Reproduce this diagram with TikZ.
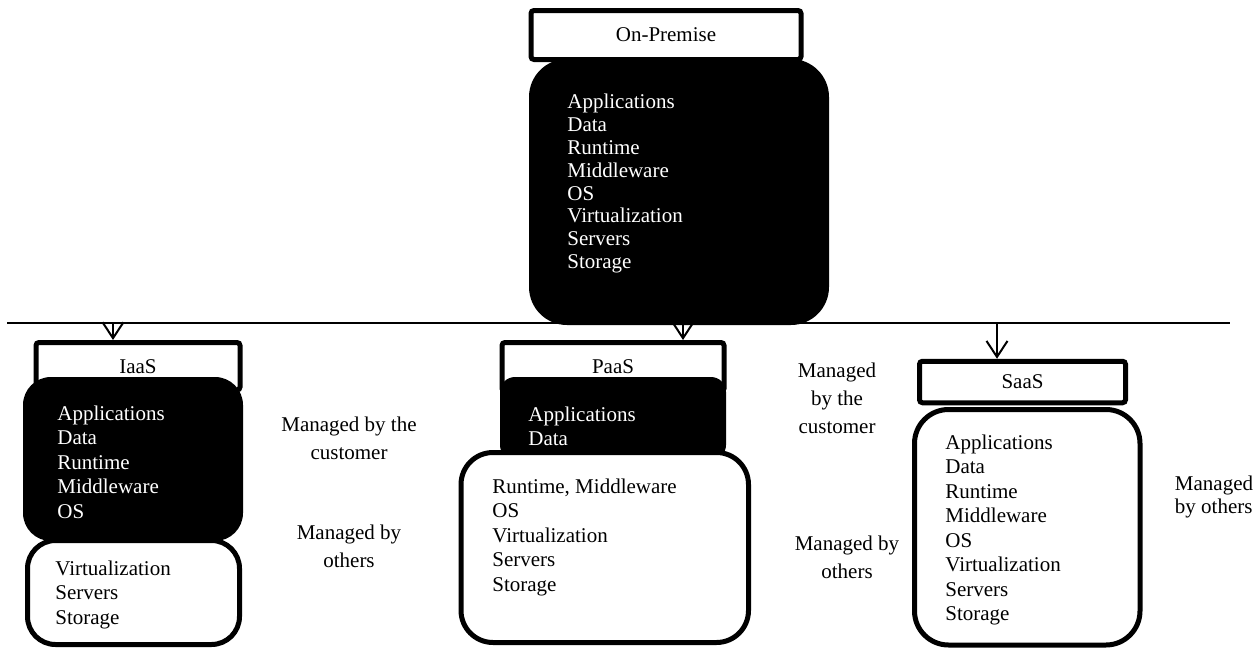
\documentclass[tikz,border=0pt]{standalone}
\usepackage{fontspec}
\setmainfont{Liberation Serif}
\usepackage{tikz}
\usetikzlibrary{arrows.meta, positioning}

\begin{document}
\begin{tikzpicture}[x=0.5pt, y=-0.5pt,
  every node/.style={font=\fontsize{10.5}{12.25}\selectfont},
  titlebox/.style={draw, fill=white, line width=2.5pt, rounded corners=1.5pt, inner sep=0pt},
  darkbox/.style={fill=black, draw=none, inner sep=0pt},
  lightbox/.style={draw, fill=white, line width=2.5pt, inner sep=0pt},
  itemlist/.style={anchor=north west, align=left, inner sep=0pt},
  note/.style={align=center, inner sep=0pt, font=\fontsize{10.5}{14}\selectfont},
  arr/.style={-{Straight Barb[length=8pt, width=10.5pt]}, line width=1pt}]
\useasboundingbox (0,0) rectangle (1259,648);

% ── Separator ───────────────────────────────────────────────────
\coordinate (hl-start) at (7,323);
\coordinate (hl-end) at (1230,323);
\draw[line width=1pt] (hl-start) -- (hl-end);

% ── On-Premise ──────────────────────────────────────────────────
\node[darkbox, minimum width=150pt, minimum height=133pt, rounded corners=19pt]
  (onprem-box) at (679,192) {};
\node[titlebox, minimum width=135pt, minimum height=24.5pt]
  (onprem-title) at (666,35) {On-Premise};
\node[itemlist, text=white, font=\fontsize{10.5}{11.45}\selectfont]
  (onprem-list) at (567,93.5)
  {Applications\\Data\\Runtime\\Middleware\\OS\\Virtualization\\Servers\\Storage};

% ── IaaS ────────────────────────────────────────────────────────
\coordinate (hl-iaas) at (113,323);
\node[titlebox, minimum width=102pt, minimum height=23.75pt]
  (iaas-title) at (138,366.25) {IaaS};
\node[darkbox, minimum width=110pt, minimum height=82pt, rounded corners=14pt]
  (iaas-top) at (133,459) {};
\node[lightbox, minimum width=106pt, minimum height=52pt, rounded corners=14pt]
  (iaas-bottom) at (133.5,592.5) {};
\node[itemlist, text=white] (iaas-own) at (57,405.5)
  {Applications\\Data\\Runtime\\Middleware\\OS};
\node[itemlist] (iaas-rest) at (55,560.5) {Virtualization\\Servers\\Storage};
\node[note] (iaas-cust) at (349,438.5) {Managed by the\\customer};
\node[note] (iaas-oth) at (349,546.5) {Managed by\\others};
\draw[arr] (hl-iaas) -- (hl-iaas |- iaas-title.north);

% ── PaaS ────────────────────────────────────────────────────────
\coordinate (hl-paas) at (683,323);
\node[titlebox, minimum width=111pt, minimum height=24.5pt]
  (paas-title) at (613,367) {PaaS};
\node[darkbox, minimum width=113pt, minimum height=41.5pt, rounded corners=7.5pt]
  (paas-top) at (613,418.5) {};
\node[lightbox, minimum width=143.75pt, minimum height=95pt, rounded corners=16pt]
  (paas-bottom) at (604.75,547.5) {};
\node[itemlist, text=white] (paas-own) at (528,406.5) {Applications\\Data};
\node[itemlist] (paas-rest) at (492,478.5)
  {Runtime, Middleware\\OS\\Virtualization\\Servers\\Storage};
\node[note] (paas-cust) at (837,398.5) {Managed\\by the\\customer};
\node[note] (paas-oth) at (847,557.5) {Managed by\\others};
\draw[arr] (hl-paas) -- (hl-paas |- paas-title.north);

% ── SaaS ────────────────────────────────────────────────────────
\coordinate (hl-saas) at (997,323);
\node[titlebox, minimum width=103pt, minimum height=20.75pt]
  (saas-title) at (1022.5,382) {SaaS};
\node[lightbox, minimum width=112.75pt, minimum height=117.75pt, rounded corners=17pt]
  (saas-box) at (1027.25,527.25) {};
\node[itemlist] (saas-list) at (945,434.5)
  {Applications\\Data\\Runtime\\Middleware\\OS\\Virtualization\\Servers\\Storage};
\node[note, align=left, font=\fontsize{10.5}{11.5}\selectfont]
  (saas-oth) at (1214,497) {Managed\\by others};
\draw[arr] (hl-saas) -- (hl-saas |- saas-title.north);

\end{tikzpicture}
\end{document}
